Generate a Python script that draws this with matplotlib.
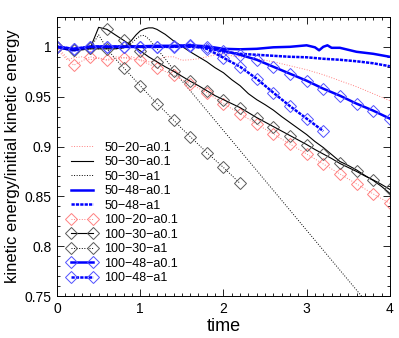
import matplotlib
matplotlib.use('Agg')
import matplotlib.pyplot as plt
from matplotlib.ticker import MultipleLocator

plt.rcParams['font.family'] = ['Liberation Sans', 'DejaVu Sans']

# thin lines without markers
t_50_20_a01 = [0, 0.05, 0.12, 0.2, 0.3, 0.4, 0.5, 0.6, 0.7, 0.8, 0.9, 1.0, 1.1, 1.2, 1.3,
               1.4, 1.5, 1.6, 1.7, 1.8, 1.9, 2.0, 2.1, 2.2, 2.4, 2.6, 2.8, 3.0, 3.2, 3.4,
               3.6, 3.8, 4.0]
e_50_20_a01 = [1.0, 0.993, 0.987, 0.989, 0.990, 0.987, 0.989, 0.987, 0.990, 0.989, 0.990,
               0.987, 0.985, 0.986, 0.990, 0.990, 0.9865, 0.987, 0.988, 0.990, 0.992, 0.993,
               0.991, 0.990, 0.988, 0.985, 0.981, 0.977, 0.972, 0.966, 0.960, 0.953, 0.946]

t_50_30_a01 = [0, 0.1, 0.2, 0.3, 0.4, 0.5, 0.6, 0.7, 0.8, 0.85, 0.9, 0.95, 1.0, 1.05, 1.1,
               1.15, 1.2, 1.3, 1.4, 1.5, 1.6, 1.7, 1.8, 1.9, 2.0, 2.1, 2.2, 2.3, 2.4, 2.5,
               2.6, 2.7, 2.8, 2.9, 3.0, 3.1, 3.2, 3.3, 3.4, 3.5, 3.6, 3.7, 3.8, 3.9, 4.0]
e_50_30_a01 = [1.0, 0.998, 0.997, 0.997, 0.998, 0.998, 0.998, 0.998, 0.999, 1.002, 1.007,
               1.012, 1.016, 1.018, 1.019, 1.019, 1.0175, 1.0125, 1.006, 1.0005, 0.995,
               0.990, 0.985, 0.979, 0.974, 0.967, 0.961, 0.953, 0.947, 0.942, 0.9365,
               0.930, 0.924, 0.918, 0.912, 0.905, 0.899, 0.892, 0.885, 0.881, 0.8765,
               0.871, 0.866, 0.860, 0.853]

t_50_30_a1 = [0, 0.1, 0.2, 0.3, 0.4, 0.5, 0.6, 0.7, 0.8, 0.9, 0.95, 1.0, 1.05, 1.1, 1.2,
              1.3, 1.4, 1.5, 1.75, 2.0, 2.25, 2.5, 2.75, 3.0, 3.25, 3.5, 3.75]
e_50_30_a1 = [1.0, 0.998, 0.997, 0.997, 0.998, 0.998, 0.998, 0.998, 0.999, 1.004, 1.008,
              1.011, 1.0115, 1.008, 0.998, 0.988, 0.977, 0.966, 0.941, 0.916, 0.891,
              0.866, 0.841, 0.816, 0.791, 0.766, 0.741]

t_50_48_a01 = [0, 0.1, 0.2, 0.3, 0.4, 0.6, 0.8, 1.0, 1.2, 1.4, 1.6, 1.8, 2.0, 2.2, 2.4,
               2.6, 2.8, 3.0, 3.1, 3.15, 3.2, 3.25, 3.3, 3.4, 3.6, 3.8, 4.0]
e_50_48_a01 = [1.0, 0.998, 0.9965, 0.998, 1.0, 1.0, 1.0, 1.0005, 1.001, 1.001, 1.0015,
               1.0005, 0.998, 0.9975, 0.998, 0.9995, 1.0, 1.0015, 0.9995, 0.9965, 1.0,
               1.0015, 0.999, 0.999, 0.995, 0.993, 0.990]

t_50_48_a1 = [0, 0.1, 0.2, 0.3, 0.4, 0.6, 0.8, 1.0, 1.2, 1.4, 1.6, 1.8, 2.0, 2.2, 2.4,
              2.6, 2.8, 3.0, 3.2, 3.4, 3.6, 3.8, 4.0]
e_50_48_a1 = [1.0, 0.998, 0.9965, 0.998, 1.0, 1.0, 1.0, 1.0, 1.0, 1.0, 1.0, 0.999, 0.995,
              0.993, 0.992, 0.991, 0.990, 0.9895, 0.988, 0.987, 0.9855, 0.9835, 0.9805]

# series with diamond markers
t_100_20_a01 = [0, 0.2, 0.4, 0.6, 0.8, 1.0, 1.2, 1.4, 1.6, 1.8, 2.0, 2.2, 2.4, 2.6, 2.8,
                3.0, 3.2, 3.4, 3.6, 3.8, 4.0]
e_100_20_a01 = [1.0, 0.9815, 0.990, 0.9865, 0.989, 0.9865, 0.979, 0.9715, 0.963, 0.954,
                0.943, 0.933, 0.9225, 0.9125, 0.9025, 0.8925, 0.8825, 0.8725, 0.8625,
                0.8525, 0.843]

t_100_30_a01 = [0, 0.1, 0.2, 0.3, 0.4, 0.5, 0.6, 0.7, 0.8, 0.9, 1.0, 1.1, 1.2, 1.3, 1.4,
                1.5, 1.6, 1.7, 1.8, 1.9, 2.0, 2.1, 2.2, 2.3, 2.4, 2.5, 2.6, 2.7, 2.8, 2.9,
                3.0, 3.1, 3.2, 3.3, 3.4, 3.5, 3.6, 3.7, 3.8, 3.9, 4.0]
e_100_30_a01 = [1.0, 0.998, 0.997, 0.998, 0.999, 1.0195, 1.0175, 1.012, 1.0065, 1.001,
                0.996, 0.990, 0.985, 0.980, 0.9755, 0.9705, 0.9655, 0.961, 0.956, 0.951,
                0.947, 0.943, 0.939, 0.934, 0.929, 0.9245, 0.920, 0.9155, 0.911, 0.9065,
                0.902, 0.897, 0.8925, 0.888, 0.883, 0.879, 0.875, 0.8705, 0.8665, 0.862,
                0.857]

t_100_30_a1 = [0, 0.1, 0.2, 0.3, 0.4, 0.5, 0.6, 0.7, 0.8, 0.9, 1.0, 1.1, 1.2, 1.3, 1.4,
               1.5, 1.6, 1.7, 1.8, 1.9, 2.0, 2.1, 2.2]
e_100_30_a1 = [1.0, 0.998, 0.997, 0.998, 0.999, 1.012, 0.998, 0.988, 0.979, 0.970, 0.961,
               0.952, 0.943, 0.935, 0.9265, 0.918, 0.910, 0.902, 0.894, 0.8865, 0.879,
               0.871, 0.863]

t_100_48_a01 = [0, 0.2, 0.4, 0.6, 0.8, 1.0, 1.2, 1.4, 1.6, 1.8, 2.0, 2.2, 2.4, 2.6, 2.8,
                3.0, 3.2, 3.4, 3.6, 3.8, 4.0]
e_100_48_a01 = [1.0, 0.998, 1.0, 1.0, 1.0, 1.0, 1.0, 1.0005, 1.0005, 0.9995, 0.996, 0.992,
                0.987, 0.980, 0.973, 0.966, 0.958, 0.951, 0.943, 0.936, 0.928]

t_100_48_a1 = [0, 0.2, 0.4, 0.6, 0.8, 1.0, 1.2, 1.4, 1.6, 1.8, 2.0, 2.2, 2.4, 2.6, 2.8,
               3.0, 3.2]
e_100_48_a1 = [1.0, 0.998, 1.0, 1.0, 1.0, 1.0, 1.0, 1.0, 1.002, 0.998, 0.989, 0.980, 0.968,
               0.954, 0.9405, 0.928, 0.9155]

RED = '#ff8080'
GRAY = '0.35'
BLUE = '#0000ff'
LBLUE = '#5050ff'
DENSE = (0, (1.3, 0.45))


def main():
    fig = plt.figure(figsize=(3.99, 3.38), dpi=100)
    ax = fig.add_axes([0.143, 0.124, 0.834, 0.826])

    mk = dict(marker='D', markersize=6, markerfacecolor='none', markeredgewidth=0.7)

    ax.plot(t_50_20_a01, e_50_20_a01, color=RED, lw=0.7, ls=':', label='50\u221220\u2212a0.1')
    ax.plot(t_50_30_a01, e_50_30_a01, color='k', lw=0.8, ls='-', label='50\u221230\u2212a0.1')
    ax.plot(t_50_30_a1, e_50_30_a1, color='k', lw=0.7, ls=':', label='50\u221230\u2212a1')
    ax.plot(t_50_48_a01, e_50_48_a01, color=BLUE, lw=1.8, ls='-', label='50\u221248\u2212a0.1')
    ax.plot(t_50_48_a1, e_50_48_a1, color=BLUE, lw=1.8, ls=DENSE, label='50\u221248\u2212a1')
    ax.plot(t_100_20_a01, e_100_20_a01, color=RED, lw=0.7, ls=':', markeredgecolor=RED,
            label='100\u221220\u2212a0.1', **mk)
    ax.plot(t_100_30_a01, e_100_30_a01, color='k', lw=0.8, ls='-', markeredgecolor=GRAY,
            markevery=2, label='100\u221230\u2212a0.1', **mk)
    ax.plot(t_100_30_a1, e_100_30_a1, color='k', lw=0.7, ls=':', markeredgecolor=GRAY,
            markevery=2, label='100\u221230\u2212a1', **mk)
    ax.plot(t_100_48_a01, e_100_48_a01, color=BLUE, lw=1.8, ls='-', markeredgecolor=LBLUE,
            label='100\u221248\u2212a0.1', **mk)
    ax.plot(t_100_48_a1, e_100_48_a1, color=BLUE, lw=1.8, ls=DENSE, markeredgecolor=LBLUE,
            label='100\u221248\u2212a1', **mk)

    ax.set_xlim(0, 4)
    ax.set_ylim(0.75, 1.03)
    ax.xaxis.set_major_locator(MultipleLocator(1))
    ax.xaxis.set_minor_locator(MultipleLocator(0.1))
    ax.yaxis.set_minor_locator(MultipleLocator(0.01))
    ax.set_yticks([0.75, 0.8, 0.85, 0.9, 0.95, 1.0])
    ax.set_yticklabels(['0.75', '0.8', '0.85', '0.9', '0.95', '1'])
    ax.tick_params(which='both', direction='in', top=True, right=True, labelsize=10, width=0.6)
    ax.tick_params(which='major', length=5, pad=4)
    ax.tick_params(which='minor', length=2.5)
    for s in ax.spines.values():
        s.set_linewidth(0.7)

    ax.set_xlabel('time', fontsize=13, labelpad=2)
    ax.set_ylabel('kinetic energy/initial kinetic energy', fontsize=12, labelpad=3)

    ax.legend(loc='upper left', bbox_to_anchor=(0.03, 0.553), frameon=False, fontsize=9,
              handlelength=2.4, handletextpad=0.6, labelspacing=0.2, borderpad=0,
              borderaxespad=0, numpoints=2)

    fig.savefig('out.png', dpi=100)


if __name__ == '__main__':
    main()
